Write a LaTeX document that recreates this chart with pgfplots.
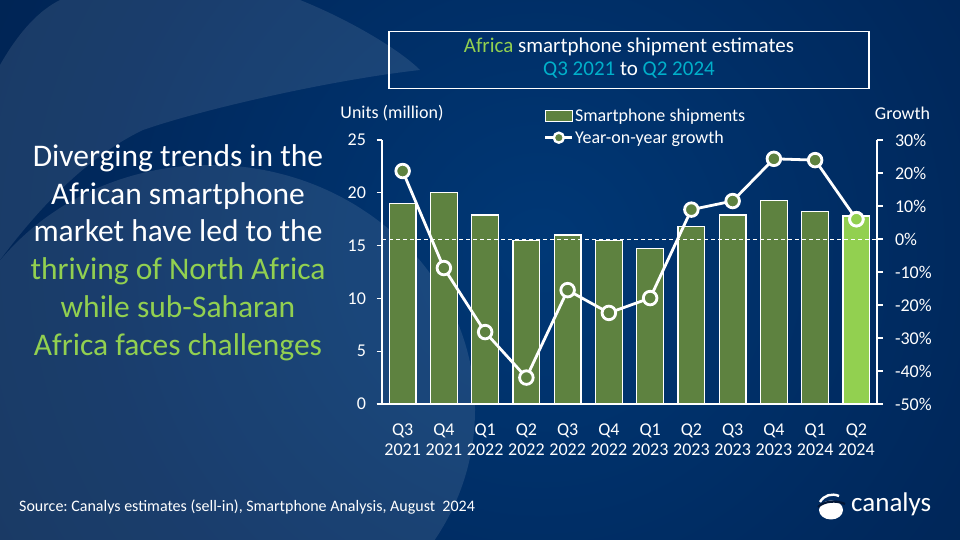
\documentclass[border=0pt]{standalone}
\usepackage{pgfplots}
\pgfplotsset{compat=1.18}
\usepackage{fontspec}
\setmainfont{Carlito}
\frenchspacing
\definecolor{bargreen}{RGB}{94,130,64}
\definecolor{lightgreen}{RGB}{146,208,80}
\definecolor{titleteal}{RGB}{0,176,202}
\definecolor{bgA}{RGB}{0,56,118}
\definecolor{bgB}{RGB}{0,40,92}
\definecolor{bgC}{RGB}{2,22,54}
\pgfdeclareradialshading{bgshade}{\pgfpoint{0bp}{0bp}}{color(0bp)=(bgA); color(18bp)=(bgB); color(50bp)=(bgC)}
\newcommand{\fs}[1]{\fontsize{#1bp}{1.2\dimexpr#1bp\relax}\selectfont}
\begin{document}
\begin{tikzpicture}[x=1bp,y=1bp]
\useasboundingbox (0,0) rectangle (960,540);
\begin{scope}
\clip (0,0) rectangle (960,540);
\fill[bgC] (0,0) rectangle (960,540);
\shade[shading=bgshade] (540,290) circle (620);
\fill[white, opacity=0.1] (0,475) .. controls (20,510) and (40,530) .. (60,540) -- (300,540) .. controls (350,520) and (400,490) .. (420,470) .. controls (330,460) and (200,430) .. (143,410) .. controls (80,380) and (30,320) .. (0,280) -- cycle;
\fill[white, opacity=0.1] (210,130) ellipse (265 and 245);
\end{scope}

% title box
\draw[white, line width=1.2bp] (389,451.7) rectangle (869,508.3);
\node[align=center, font=\fontsize{21bp}{23.3bp}\selectfont, text=white] at (629,481.6)
  {\textcolor{lightgreen}{Africa} smartphone shipment estimates\\\textcolor{titleteal}{Q3 2021} to \textcolor{titleteal}{Q2 2024}};

% left heading
\node[align=center, font=\fontsize{31.5bp}{37.8bp}\selectfont, text=white] at (178,287.5)
  {Diverging trends in the\\African smartphone\\market have led to the\\\textcolor{lightgreen}{thriving of North Africa}\\\textcolor{lightgreen}{while sub-Saharan}\\\textcolor{lightgreen}{Africa faces challenges}};

% axis titles
\node[text=white, font=\fs{18}] at (392,427) {Units (million)};
\node[text=white, font=\fs{18}] at (902.5,427) {Growth};

% source
\node[anchor=west, text=white, font=\fs{16}, inner sep=0pt] at (19,33) {Source: Canalys estimates (sell-in), Smartphone Analysis, August~~2024};

% logo
\fill[white] (831,30) ellipse (12 and 9.5);
\draw[bgC, line width=2.2bp] (818,33) .. controls (824,39) and (836,40) .. (845,36);
\draw[white, line width=2.4bp] (820,38) .. controls (824,45) and (832,47) .. (839,44);
\node[anchor=base west, text=white, font=\fs{27}, inner sep=0pt] at (851,28) {canalys};

\begin{axis}[
  at={(382bp,136bp)}, anchor=south west,
  scale only axis, width=495bp, height=264bp,
  xmin=-0.5, xmax=11.5, ymin=0, ymax=25,
  axis y line*=left, axis x line*=bottom,
  axis line style={white, line width=1.2bp},
  x axis line style={shorten <=-5.5bp, shorten >=-6bp},
  xtick={0,...,11},
  xticklabels={{Q3\\2021},{Q4\\2021},{Q1\\2022},{Q2\\2022},{Q3\\2022},{Q4\\2022},{Q1\\2023},{Q2\\2023},{Q3\\2023},{Q4\\2023},{Q1\\2024},{Q2\\2024}},
  xtick style={draw=none},
  ytick={0,5,10,15,20,25},
  yticklabels={0,5,10,15,20,25},
  ytick style={white, line width=1.2bp},
  tick align=outside, major tick length=5.5bp,
  ticklabel style={text=white, font=\fs{18}},
  xticklabel style={align=center, font=\fontsize{18bp}{20bp}\selectfont, yshift=-11bp},
  yticklabel style={xshift=-7bp},
  bar width=26.7bp,
  clip=false,
  legend style={draw=none, fill=none, at={(0.327,1.125)}, anchor=north west,
    inner sep=0pt, nodes={inner sep=1.5bp, text=white, font=\fs{18}}, row sep=5bp},
  legend cell align=left,
]
\addplot[ybar, bar shift=0pt, fill=bargreen, draw=white, line width=1.1bp,
  legend image code/.code={\draw[fill=bargreen, draw=white!80, line width=0.8bp] (0bp,-5.5bp) rectangle (27bp,5.5bp);}]
  coordinates {(0,19.0) (1,20.0) (2,17.9) (3,15.5) (4,16.0) (5,15.5) (6,14.7) (7,16.8) (8,17.9) (9,19.3) (10,18.2)};
\addlegendentry{Smartphone shipments}
\addplot[ybar, bar shift=0pt, fill=lightgreen, draw=white, line width=1.1bp, forget plot]
  coordinates {(11,17.8)};
\addlegendimage{legend image code/.code={\draw[white, line width=2.5bp] (0bp,0bp) -- (27bp,0bp); \draw[fill=bargreen, draw=white, line width=2.4bp] (13.5bp,0bp) circle (5bp);}}
\addlegendentry{Year-on-year growth}
\end{axis}

\begin{axis}[
  at={(382bp,136bp)}, anchor=south west,
  scale only axis, width=495bp, height=264bp,
  xmin=-0.5, xmax=11.5, ymin=-50, ymax=30,
  axis y line*=right, axis x line=none,
  axis line style={white, line width=1.2bp},
  ytick={-50,-40,-30,-20,-10,0,10,20,30},
  yticklabels={-50\%,-40\%,-30\%,-20\%,-10\%,0\%,10\%,20\%,30\%},
  ytick style={white, line width=1.2bp},
  tick align=outside, major tick length=5.5bp,
  ticklabel style={text=white, font=\fs{18}},
  yticklabel style={xshift=9bp},
  clip=false,
]
\addplot[white, line width=0.9bp, dash pattern=on 4bp off 3bp] coordinates {(-0.5,0) (11.5,0)};
\addplot[white, line width=2.8bp, mark=*, mark size=6.8bp,
  mark options={fill=bargreen, draw=white, line width=2.8bp, solid}]
  coordinates {(0,20.6) (1,-8.8) (2,-28.2) (3,-42.0) (4,-15.5) (5,-22.4) (6,-17.9) (7,8.9) (8,11.5) (9,24.3) (10,23.9) (11,6.0)};
\addplot[only marks, mark=*, mark size=6.8bp,
  mark options={fill=lightgreen, draw=white, line width=2.8bp}]
  coordinates {(11,6.0)};
\end{axis}
\end{tikzpicture}
\end{document}
